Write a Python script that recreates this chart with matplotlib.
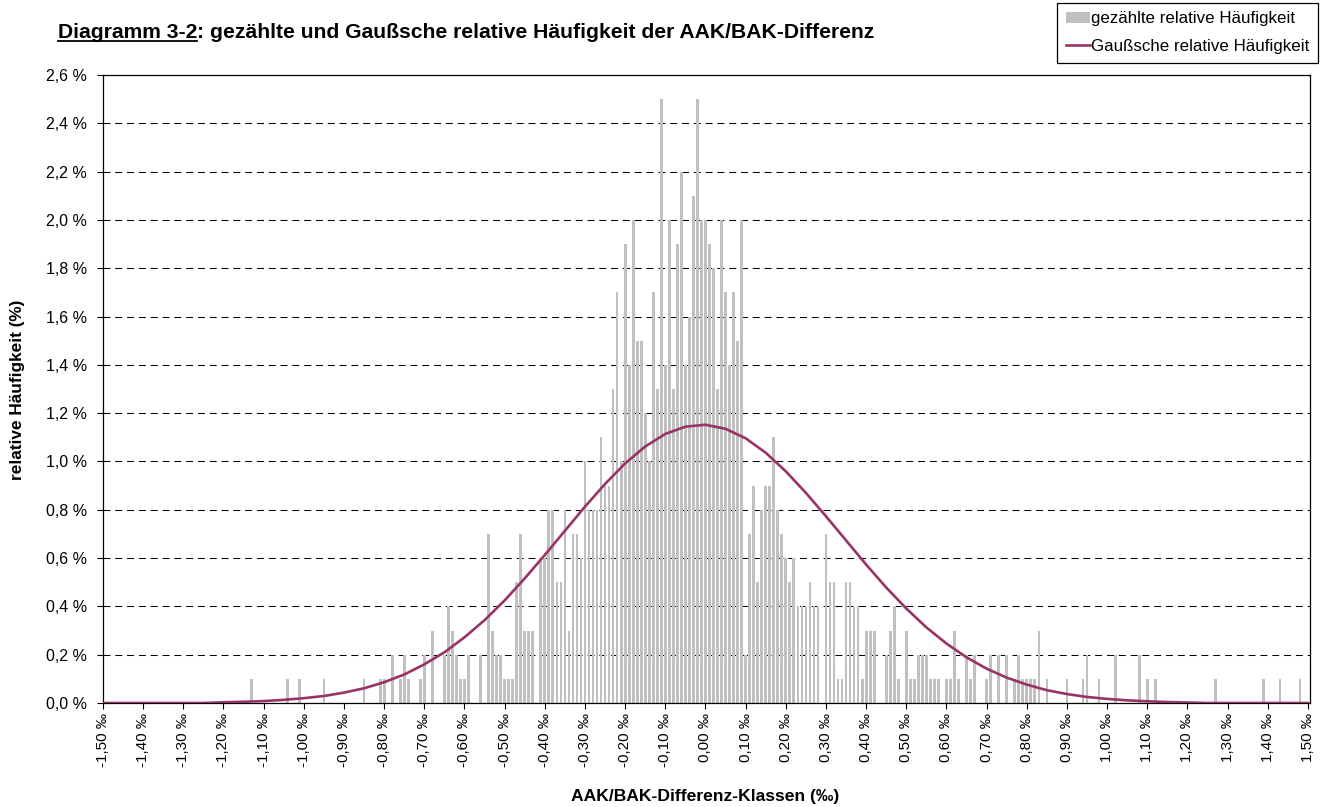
import numpy as np
import matplotlib.pyplot as plt
from matplotlib.lines import Line2D

plt.rcParams['font.family'] = ['Liberation Sans', 'DejaVu Sans']
plt.rcParams['lines.scale_dashes'] = False

# Klassen -1,50 ... 1,50 Promille, Schrittweite 0,01
klassen = np.round(np.arange(-150, 151) / 100, 2)

# gezaehlte relative Haeufigkeit in %, je Zeile 10 Klassen
gezaehlt = [
    0, 0, 0, 0, 0, 0, 0, 0, 0, 0,              # -1,50
    0, 0, 0, 0, 0, 0, 0, 0, 0, 0,              # -1,40
    0, 0, 0, 0, 0, 0, 0, 0, 0, 0,              # -1,30
    0, 0, 0, 0, 0, 0, 0, .1, 0, 0,             # -1,20
    0, 0, 0, 0, 0, 0, .1, 0, 0, .1,            # -1,10
    0, 0, 0, 0, 0, .1, 0, 0, 0, 0,             # -1,00
    0, 0, 0, 0, 0, .1, 0, 0, 0, .1,            # -0,90
    .1, 0, .2, 0, .1, .2, .1, 0, 0, .1,        # -0,80
    .2, 0, .3, 0, 0, .2, .4, .3, .2, .1,       # -0,70
    .1, .2, 0, 0, .2, 0, .7, .3, .2, .2,       # -0,60
    .1, .1, .1, .5, .7, .3, .3, .3, 0, .6,     # -0,50
    .6, .8, .8, .5, .5, .8, .3, .7, .7, .6,    # -0,40
    1.0, .8, .8, .8, 1.1, .9, .9, 1.3, 1.7, 1.0,   # -0,30
    1.9, 1.4, 2.0, 1.5, 1.5, 1.2, 1.0, 1.7, 1.3, 2.5,  # -0,20
    1.4, 2.0, 1.3, 1.9, 2.2, 1.4, 1.6, 2.1, 2.5, 2.0,  # -0,10
    2.0, 1.9, 1.8, 1.3, 2.0, 1.7, 1.4, 1.7, 1.5, 2.0,  # 0,00
    .2, .7, .9, .5, .8, .9, .9, 1.1, .8, .7,   # 0,10
    .6, .5, .6, .4, .4, .4, .5, .4, .4, 0,     # 0,20
    .7, .5, .5, .1, .1, .5, .5, .4, .4, .1,    # 0,30
    .3, .3, .3, 0, 0, .2, .3, .4, .1, 0,       # 0,40
    .3, .1, .1, .2, .2, .2, .1, .1, .1, 0,     # 0,50
    .1, .1, .3, .1, 0, .2, .1, .2, 0, 0,       # 0,60
    .1, .2, 0, .2, 0, .2, 0, .1, .2, .1,       # 0,70
    .1, .1, .1, .3, 0, .1, 0, 0, 0, 0,         # 0,80
    .1, 0, 0, 0, .1, .2, 0, 0, .1, 0,          # 0,90
    0, 0, .2, 0, 0, 0, 0, 0, .2, 0,            # 1,00
    .1, 0, .1, 0, 0, 0, 0, 0, 0, 0,            # 1,10
    0, 0, 0, 0, 0, 0, 0, .1, 0, 0,             # 1,20
    0, 0, 0, 0, 0, 0, 0, 0, 0, .1,             # 1,30
    0, 0, 0, .1, 0, 0, 0, 0, .1, 0,            # 1,40
    0,                                         # 1,50
]

kurve_x = np.round(np.arange(-30, 31) * 0.05, 2)
kurve_y = [
    0, 0, 0, 0, 0, 0,
    .003, .005, .008, .013, .020, .029, .043, .061, .086, .118,
    .160, .210, .272, .343, .425, .516, .613, .713, .813, .907,
    .992, 1.062, 1.114, 1.144, 1.152, 1.135, 1.096, 1.036, .959, .870,
    .773, .673, .573, .478, .391, .313, .246, .189, .142, .105,
    .076, .053, .037, .025, .017, .011, .007, .004, .002,
    0, 0, 0, 0, 0, 0,
]

y_ticks = np.round(np.arange(0, 2.61, 0.2), 1)
x_ticks = np.round(np.arange(-15, 16) / 10, 2)

W, H = 1327, 807
fig = plt.figure(figsize=(W / 100, H / 100), dpi=100)
ax = fig.add_axes([103 / W, 1 - 703 / H, (1310 - 103) / W, (703 - 75) / H])

bars = ax.bar(klassen, gezaehlt, width=0.0068, color='#C0C0C0', linewidth=0,
              label='gezählte relative Häufigkeit', zorder=2)
line, = ax.plot(kurve_x, kurve_y, color='#993366', linewidth=1.9,
                label='Gaußsche relative Häufigkeit', zorder=3)

ax.set_xlim(-1.5, 1.505)
ax.set_ylim(0, 2.6)
ax.set_axisbelow(True)
ax.yaxis.grid(True, color='black', linewidth=0.75, linestyle=(0, (5, 3.5)))

ax.set_yticks(y_ticks)
ax.set_yticklabels([f"{v:.1f}".replace('.', ',') + " %" for v in y_ticks], fontsize=11.5)
ax.set_xticks(x_ticks)
ax.set_xticklabels([f"{abs(v) if v == 0 else v:.2f}".replace('.', ',') + " ‰" for v in x_ticks],
                   rotation=90, fontsize=11)
ax.tick_params(direction='out', length=4.5, width=0.8, color='black')
ax.tick_params(axis='y', pad=7)
ax.tick_params(axis='x', pad=3)

for side in ['left', 'bottom', 'right', 'top']:
    ax.spines[side].set_color('black')
    ax.spines[side].set_linewidth(0.9)

fig.text(18 / W, 1 - 390 / H, 'relative Häufigkeit (%)', rotation=90,
         ha='center', va='center', fontsize=12.4, fontweight='bold')
fig.text(705 / W, 1 - 796 / H, 'AAK/BAK-Differenz-Klassen (‰)',
         ha='center', va='center', fontsize=12.6, fontweight='bold')

# Titel mit unterstrichenem Anfang
t1 = fig.text(58 / W, 1 - 38 / H, 'Diagramm 3-2', ha='left', va='baseline',
              fontsize=15.2, fontweight='bold')
fig.canvas.draw()
r = fig.canvas.get_renderer()
bb = t1.get_window_extent(r)
fig.text(bb.x1 / W, 1 - 38 / H, ': gezählte und Gaußsche relative Häufigkeit der AAK/BAK-Differenz',
         ha='left', va='baseline', fontsize=15.2, fontweight='bold')
uy = (H - 38 - 3) / H
fig.add_artist(Line2D([bb.x0 / W, bb.x1 / W], [uy, uy], color='black', linewidth=1.3))

leg = fig.legend([bars, line], [bars.get_label(), line.get_label()],
                 loc='upper right', bbox_to_anchor=(1318 / W, 1 - 3 / H), fontsize=12.2,
                 frameon=True, fancybox=False, edgecolor='black', framealpha=1,
                 handlelength=1.4, handletextpad=0.1, borderpad=0.5, borderaxespad=0,
                 labelspacing=0.75)
leg.get_frame().set_linewidth(0.9)

fig.savefig('out.png', dpi=100)
